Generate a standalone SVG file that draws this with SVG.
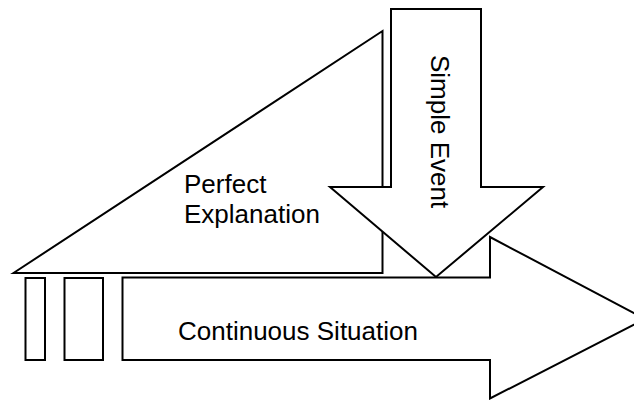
<svg xmlns="http://www.w3.org/2000/svg" width="634" height="400" viewBox="0 0 634 400">
<style>
.s{fill:#fff;stroke:#000;stroke-width:2;stroke-linejoin:miter}
.t{font-family:"Liberation Sans",Arial,sans-serif;font-size:26px;fill:#000}
</style>
<rect width="634" height="400" fill="#fff"/>
<g id="perfect-explanation">
<polygon class="s" points="13.5,273 382.5,31 382.5,273"/>
<text class="t" x="184" y="193">Perfect</text>
<text class="t" x="184" y="223">Explanation</text>
</g>
<g id="simple-event">
<polygon class="s" points="391,9 481,9 481,187 543,187 436,277 330,187 391,187"/>
<text class="t" transform="translate(431,55) rotate(90)">Simple Event</text>
</g>
<g id="bar1"><rect class="s" x="25.5" y="278" width="19.5" height="82"/></g>
<g id="bar2"><rect class="s" x="64.5" y="278" width="38.5" height="82"/></g>
<g id="continuous-situation">
<polygon class="s" points="122.5,277.5 490,277.5 490,237 645,319 490,398.5 490,360 122.5,360"/>
<text class="t" x="178" y="340">Continuous Situation</text>
</g>
<g id="connectors"></g>
</svg>
